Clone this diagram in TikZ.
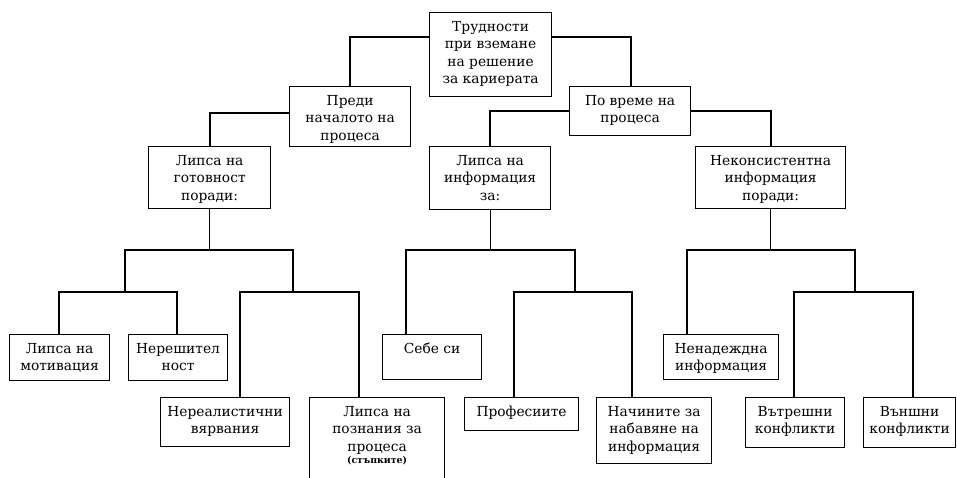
\documentclass[tikz,border=0pt]{standalone}
\usepackage{fontspec}
\setmainfont{DejaVu Serif}
\newcommand{\boxtxt}[3]{\parbox[c][#2][t]{#1}{\centering\rule{0pt}{18.5pt}#3\par}}
\begin{document}
\begin{tikzpicture}[x=1pt,y=-1pt,
  box/.style={draw, line width=1.2pt, inner sep=0pt, anchor=north west, font=\fontsize{13.8}{17.5}\selectfont},
  conn/.style={line width=1.2pt}]
\useasboundingbox (0,0) rectangle (957,478);
\fill[white] (0,0) rectangle (957,478);
\clip (0,0) rectangle (957,478);
% boxes
\node[box] (root) at (429,12) {\boxtxt{122pt}{84pt}{Трудности\\при вземане\\на решение\\за кариерата}};
\node[box] (pre) at (289,86) {\boxtxt{121pt}{60pt}{Преди\\началото на\\процеса}};
\node[box] (during) at (569,86) {\boxtxt{121pt}{49pt}{По време на\\процеса}};
\node[box] (ready) at (148,146) {\boxtxt{122pt}{62pt}{Липса на\\готовност\\поради:}};
\node[box] (info) at (429,146) {\boxtxt{121pt}{63pt}{Липса на\\информация\\за:}};
\node[box] (incons) at (695,146) {\boxtxt{150pt}{62pt}{Неконсистентна\\информация\\поради:}};
\node[box] (motiv) at (9,334) {\boxtxt{100pt}{46pt}{Липса на\\мотивация}};
\node[box] (indec) at (128,334) {\boxtxt{99pt}{46pt}{Нерешител\\ност}};
\node[box] (unreal) at (160,397) {\boxtxt{129pt}{49pt}{Нереалистични\\вярвания}};
\node[box] (know) at (309,397) {\boxtxt{135pt}{100pt}{Липса на\\познания за\\процеса\\[-5pt]{\fontsize{9.4}{10}\selectfont\bfseries (стъпките)}}};
\node[box] (self) at (382,334) {\boxtxt{99pt}{45pt}{Себе си}};
\node[box] (prof) at (464,397) {\boxtxt{114pt}{33pt}{Професиите}};
\node[box] (ways) at (596,397) {\boxtxt{115pt}{66pt}{Начините за\\набавяне на\\информация}};
\node[box] (unrel) at (663,334) {\boxtxt{115pt}{45pt}{Ненадеждна\\информация}};
\node[box] (inner) at (745,397) {\boxtxt{99pt}{50pt}{Вътрешни\\конфликти}};
\node[box] (outer) at (863,397) {\boxtxt{92pt}{50pt}{Външни\\конфликти}};
% junctions
\coordinate (rL) at (350,37); \coordinate (rR) at (631,37);
\coordinate (pL) at (210,113);
\coordinate (dL) at (490,111); \coordinate (dR) at (771,111);
\coordinate (jA1L) at (125,250); \coordinate (jA1R) at (293,250);
\coordinate (jA2L) at (406,250); \coordinate (jA2R) at (575,250);
\coordinate (jA3L) at (687,250); \coordinate (jA3R) at (855,250);
\coordinate (jB1L) at (59,292); \coordinate (jB1R) at (177,292);
\coordinate (jB2L) at (240,292); \coordinate (jB2R) at (359,292);
\coordinate (jB3L) at (514,292); \coordinate (jB3R) at (632,292);
\coordinate (jB4L) at (794,292); \coordinate (jB4R) at (913,292);
% connectors
\draw[conn] (root.west |- rL) -- (rL) -- (rL |- pre.north);
\draw[conn] (root.east |- rR) -- (rR) -- (rR |- during.north);
\draw[conn] (pre.west |- pL) -- (pL) -- (pL |- ready.north);
\draw[conn] (during.west |- dL) -- (dL) -- (dL |- info.north);
\draw[conn] (during.east |- dR) -- (dR) -- (dR |- incons.north);
\draw[conn] (ready.south) -- (ready.south |- jA1L);
\draw[conn] (jA1L |- jB1L) -- (jA1L) -- (jA1R) -- (jA1R |- jB2L);
\draw[conn] (jB1L |- motiv.north) -- (jB1L) -- (jB1R) -- (jB1R |- indec.north);
\draw[conn] (jB2L |- unreal.north) -- (jB2L) -- (jB2R) -- (jB2R |- know.north);
\draw[conn] (info.south) -- (info.south |- jA2L);
\draw[conn] (jA2L |- self.north) -- (jA2L) -- (jA2R) -- (jA2R |- jB3L);
\draw[conn] (jB3L |- prof.north) -- (jB3L) -- (jB3R) -- (jB3R |- ways.north);
\draw[conn] (incons.south) -- (incons.south |- jA3L);
\draw[conn] (jA3L |- unrel.north) -- (jA3L) -- (jA3R) -- (jA3R |- jB4L);
\draw[conn] (jB4L |- inner.north) -- (jB4L) -- (jB4R) -- (jB4R |- outer.north);
\end{tikzpicture}
\end{document}
